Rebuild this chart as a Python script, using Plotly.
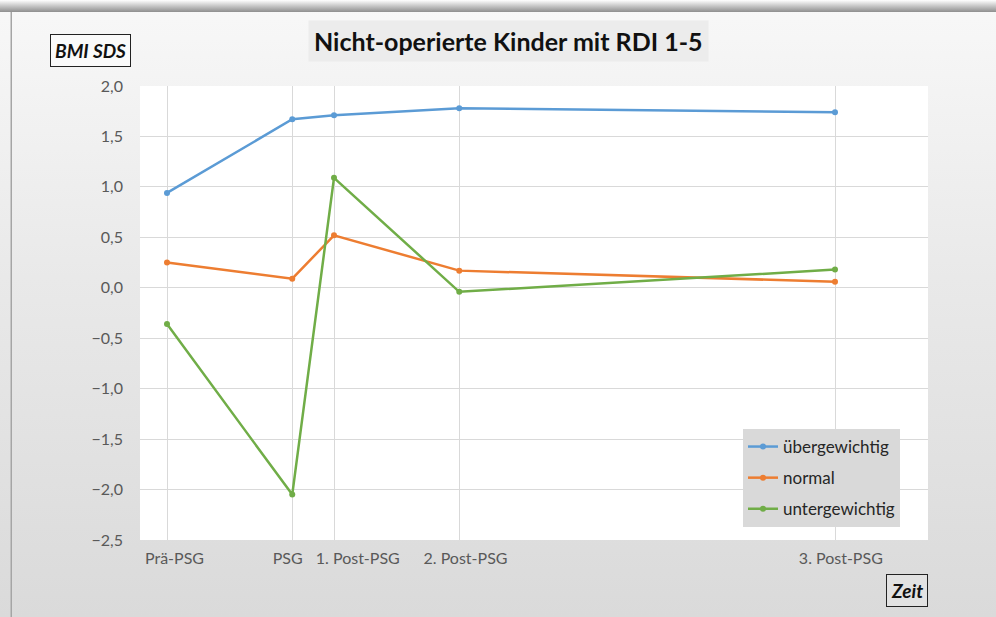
import base64
import plotly.graph_objects as go

# ---- data ----
time_x = [0, 3, 4, 7, 16]
time_labels = ["Prä-PSG", "PSG", "1. Post-PSG", "2. Post-PSG", "3. Post-PSG"]
label_pos = [0.18, 2.89, 4.57, 7.15, 16.14]
series_names = ["übergewichtig", "normal", "untergewichtig"]
ueber = [0.94, 1.67, 1.71, 1.78, 1.74]
normal = [0.25, 0.09, 0.52, 0.17, 0.06]
unter = [-0.36, -2.05, 1.09, -0.04, 0.18]
colors = ["#5b9bd5", "#ed7d31", "#70ad47"]

W, H = 996, 617
ML, MR, MT, MB = 140, 68, 86, 77
PW, PH = W - ML - MR, H - MT - MB

svg = f'''<svg xmlns="http://www.w3.org/2000/svg" width="{W}" height="{H}">
<defs>
<linearGradient id="g" x1="0" y1="0" x2="0" y2="1">
<stop offset="0" stop-color="#f8f8f8"/><stop offset="0.45" stop-color="#e9e9e9"/><stop offset="1" stop-color="#dadada"/>
</linearGradient>
<linearGradient id="s" x1="0" y1="0" x2="0" y2="1">
<stop offset="0" stop-color="#ffffff"/><stop offset="1" stop-color="#8e8e8e"/>
</linearGradient>
</defs>
<rect x="0" y="0" width="{W}" height="{H}" fill="url(#g)"/>
<rect x="0" y="0" width="{W}" height="12" fill="url(#s)"/>
<rect x="10.5" y="12" width="1.5" height="{H}" fill="#a5a5a5"/>
</svg>'''
src = "data:image/svg+xml;base64," + base64.b64encode(svg.encode()).decode()

fig = go.Figure()
for name, vals, c in zip(series_names, [ueber, normal, unter], colors):
    fig.add_trace(go.Scatter(
        x=time_x, y=vals, name=name, mode="lines+markers",
        line=dict(color=c, width=2.5), marker=dict(color=c, size=6),
        legendgroup=name,
    ))
# invisible trace to carry label axis
fig.add_trace(go.Scatter(x=[time_x[0]], y=[None], xaxis="x2", showlegend=False, hoverinfo="skip"))

xr = [(0 - 27) / 41.75, (PW - 27) / 41.75]
tickfont = dict(family="Lato", size=16, color="#595959")
fig.update_layout(
    width=W, height=H,
    margin=dict(l=ML, r=MR, t=MT, b=MB),
    paper_bgcolor="#e6e6e6", plot_bgcolor="white",
    separators=",.",
    font=dict(family="Lato"),
    xaxis=dict(range=xr, tickvals=time_x, showticklabels=False, showgrid=True,
               gridcolor="#d9d9d9", gridwidth=1, zeroline=False, showline=False, ticks=""),
    xaxis2=dict(range=xr, overlaying="x", side="bottom", anchor="y", tickvals=label_pos,
                ticktext=time_labels, showgrid=False, zeroline=False, showline=False,
                ticks="", tickfont=tickfont, ticklabelstandoff=7),
    yaxis=dict(range=[-2.5, 2.0], dtick=0.5, tick0=0, tickformat=".1f", showgrid=True,
               gridcolor="#d9d9d9", gridwidth=1, zeroline=False, showline=False, ticks="",
               tickfont=tickfont, ticklabelstandoff=16),
    legend=dict(x=(743 - ML) / PW, y=(540 - 429) / PH, xanchor="left", yanchor="top",
                bgcolor="#d9d9d9", font=dict(family="Lato", size=17, color="#262626"),
                tracegroupgap=6, itemwidth=30),
    showlegend=True,
)
fig.add_layout_image(dict(source=src, xref="paper", yref="paper", x=-ML / PW, y=1 + MT / PH,
                          sizex=W / PW, sizey=H / PH, sizing="stretch", xanchor="left",
                          yanchor="top", layer="below"))
fig.add_shape(type="rect", xref="paper", yref="paper", x0=0, x1=1, y0=0, y1=1,
              fillcolor="white", line=dict(width=0), layer="below")

fig.add_annotation(text="<b>Nicht-operierte Kinder mit RDI 1-5</b>", xref="paper", yref="paper",
                   x=(508 - ML) / PW, y=(540 - 41) / PH, showarrow=False,
                   xanchor="center", yanchor="middle",
                   font=dict(family="Lato", size=25, color="#111111"),
                   bgcolor="#ececec", borderpad=5)
fig.add_annotation(text="<b><i>BMI SDS</i></b>", xref="paper", yref="paper",
                   x=(90 - ML) / PW, y=(540 - 50) / PH, showarrow=False,
                   xanchor="center", yanchor="middle",
                   font=dict(family="Lato", size=19, color="#111111"),
                   bgcolor="#fafafa", bordercolor="#222222", borderwidth=1, borderpad=4)
fig.add_annotation(text="<b><i>Zeit</i></b>", xref="paper", yref="paper",
                   x=(907 - ML) / PW, y=(540 - 590) / PH, showarrow=False,
                   xanchor="center", yanchor="middle",
                   font=dict(family="Lato", size=19, color="#111111"),
                   bgcolor="#e2e2e2", bordercolor="#222222", borderwidth=1, borderpad=4)

fig.write_html("out.html")
